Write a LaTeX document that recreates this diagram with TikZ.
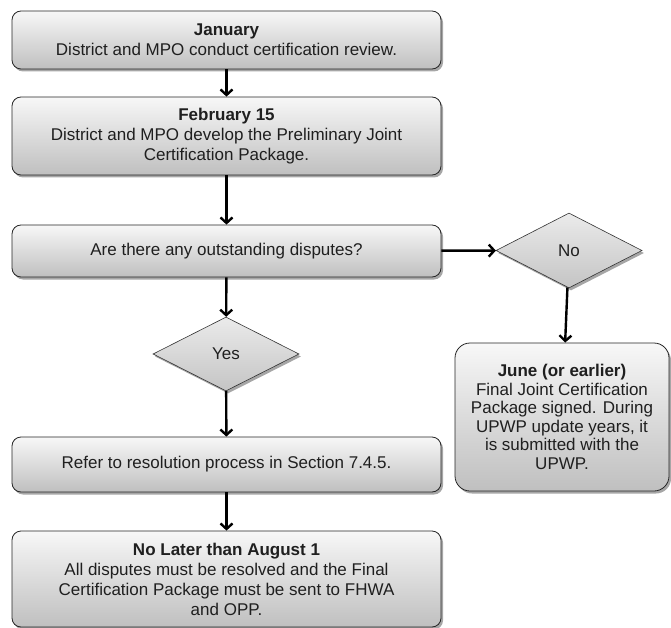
\documentclass[tikz,border=0pt]{standalone}
\usepackage{fontspec}
\setmainfont{Liberation Sans}
\usetikzlibrary{arrows.meta,shapes.geometric,shadows}
\begin{document}
\begin{tikzpicture}[x=1pt,y=-1pt,
  shadowed/.style={drop shadow={shadow xshift=2pt,shadow yshift=-2.5pt,opacity=0.35,fill=black}},
  box/.style={shadowed, draw=black!85, line width=0.8pt, rounded corners=9pt,
    top color=black!3, bottom color=black!25, align=center, inner sep=0pt,
    text=black!88, font=\fontsize{17}{20}\selectfont},
  dec/.style={shadowed, diamond, draw=black!80, line width=0.6pt, top color=black!8, bottom color=black!23,
    inner sep=0pt, text=black!88, font=\fontsize{17}{20}\selectfont},
  arr/.style={line width=2.4pt, -{Straight Barb[length=5.5pt,width=12pt]}}]
\useasboundingbox (0,0) rectangle (671,628);
\node[box, minimum width=429pt, minimum height=58pt] (jan) at (226.5,40)
  {\textbf{January}\\District and MPO conduct certification review.};
\node[box, minimum width=429pt, minimum height=78pt] (feb) at (226.5,136)
  {\textbf{February 15}\\District and MPO develop the Preliminary Joint\\Certification Package.};
\node[box, minimum width=429pt, minimum height=52pt] (q) at (226.5,251)
  {Are there any outstanding disputes?};
\node[dec, minimum width=146pt, minimum height=75pt] (no) at (569,250.5) {No};
\node[dec, minimum width=146pt, minimum height=74pt] (yes) at (226,354) {Yes};
\node[box, minimum width=429pt, minimum height=55pt] (ref) at (226.5,464.5)
  {Refer to resolution process in Section 7.4.5.};
\node[box, minimum width=429pt, minimum height=96pt] (aug) at (226.5,579)
  {\textbf{No Later than August 1}\\All disputes must be resolved and the Final\\Certification Package must be sent to FHWA\\and OPP.};
\node[box, rounded corners=15pt, minimum width=214pt, minimum height=148pt,
  font=\fontsize{17}{18.5}\selectfont] (jun) at (562,417)
  {\textbf{June (or earlier)}\\Final Joint Certification\\Package signed. During\\UPWP update years, it\\is submitted with the\\UPWP.};
\draw[arr] (jan) -- (feb);
\draw[arr] (feb) -- (q);
\draw[arr] (q) -- (no);
\draw[arr] (no) -- (jun);
\draw[arr] (q) -- (yes);
\draw[arr] (yes) -- (ref);
\draw[arr] (ref) -- (aug);
\end{tikzpicture}
\end{document}
